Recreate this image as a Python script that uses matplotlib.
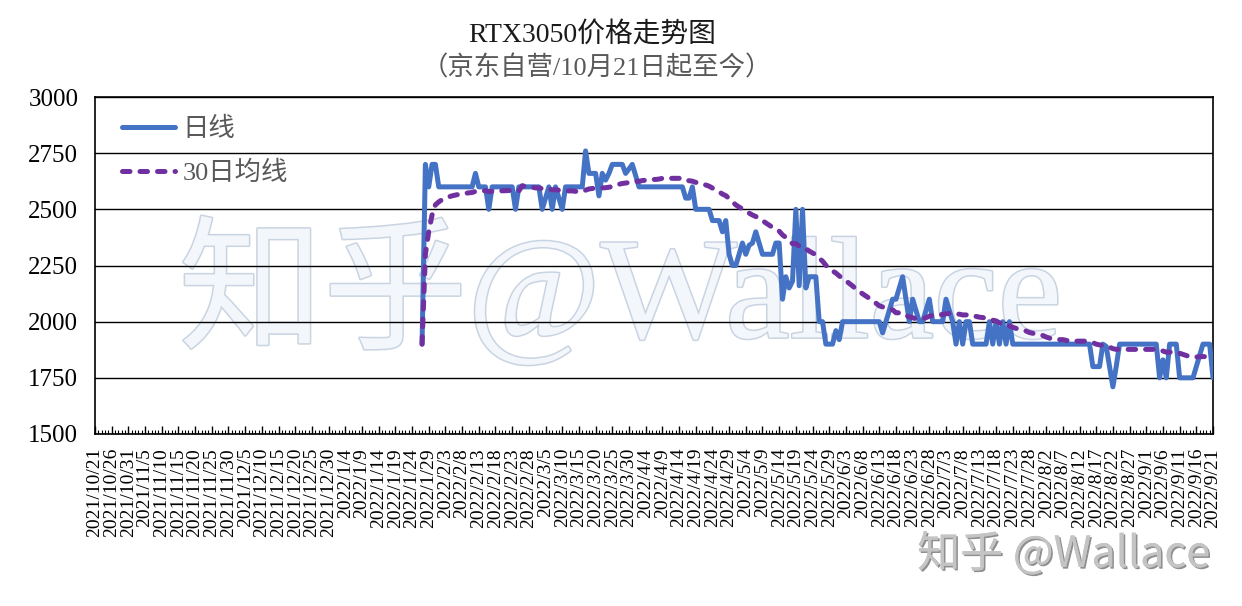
import numpy as np
import pandas as pd
import matplotlib
matplotlib.use("Agg")
import matplotlib.pyplot as plt
import matplotlib.patheffects as pe

# axis runs daily from start_date to end_date, prices start on first_price_date
start_date = "2021-10-21"
end_date = "2022-09-21"
first_price_date = "2022-01-27"

# daily price (日线), one value per day from 2022/1/27
prices = [
    1900, 2700, 2600, 2700, 2700, 2600, 2600, 2600, 2600, 2600,
    2600, 2600, 2600, 2600, 2600, 2600, 2660, 2600, 2600, 2600,
    2500, 2600, 2600, 2600, 2600, 2600, 2600, 2600, 2500, 2600,
    2600, 2600, 2600, 2600, 2600, 2600, 2500, 2550, 2600, 2500,
    2600, 2550, 2500, 2600, 2600, 2600, 2600, 2600, 2600, 2760,
    2660, 2660, 2660, 2560, 2660, 2630, 2660, 2700, 2700, 2700,
    2700, 2660, 2680, 2700, 2650, 2600, 2600, 2600, 2600, 2600,
    2600, 2600, 2600, 2600, 2600, 2600, 2600, 2600, 2600, 2550,
    2550, 2600, 2500, 2500, 2500, 2500, 2500, 2450, 2450, 2450,
    2400, 2450, 2300, 2250, 2250, 2300, 2350, 2300, 2340, 2350,
    2400, 2350, 2300, 2300, 2300, 2300, 2350, 2350, 2100, 2200,
    2150, 2180, 2500, 2160, 2500, 2150, 2200, 2200, 2200, 2000,
    2000, 1900, 1900, 1900, 1960, 1920, 2000, 2000, 2000, 2000,
    2000, 2000, 2000, 2000, 2000, 2000, 2000, 2000, 1950, 2000,
    2050, 2100, 2100, 2150, 2200, 2100, 2000, 2100, 2050, 2000,
    2000, 2050, 2100, 2000, 2000, 2000, 2000, 2100, 2050, 2000,
    1900, 2000, 1900, 2000, 2000, 1900, 1900, 1900, 1900, 1900,
    2000, 1900, 2000, 1900, 2000, 1900, 2000, 1900, 1900, 1900,
    1900, 1900, 1900, 1900, 1900, 1900, 1900, 1900, 1900, 1900,
    1900, 1900, 1900, 1900, 1900, 1900, 1900, 1900, 1900, 1900,
    1900, 1800, 1800, 1800, 1900, 1890, 1800, 1710, 1800, 1900,
    1900, 1900, 1900, 1900, 1900, 1900, 1900, 1900, 1900, 1900,
    1900, 1750, 1830, 1750, 1900, 1900, 1900, 1750, 1750, 1750,
    1750, 1750, 1800, 1850, 1900, 1900, 1900, 1750,
]

yticks = [1500, 1750, 2000, 2250, 2500, 2750, 3000]

plt.rcParams['font.family'] = ['Liberation Serif', 'Noto Sans CJK SC']

dates = pd.date_range(start_date, end_date, freq="D")
daily = pd.Series(np.nan, index=dates)
daily.loc[first_price_date:] = prices
# 30 day average, averages what is there for the first month
ma30 = daily.rolling(30, min_periods=1).mean()

labels = [f"{d.year}/{d.month}/{d.day}" for d in dates]
x = np.arange(len(dates))

fig = plt.figure(figsize=(12.42, 6.06), dpi=100)
ax = fig.add_axes([95/1242, 1-434/606, (1213-95)/1242, (434-97)/606])

# big watermark behind everything
ax.text(0.47, 0.415, "知乎@Wallace", transform=ax.transAxes, ha="center", va="center",
        fontsize=104, color="#f3f6fa", zorder=0.2,
        path_effects=[pe.Stroke(linewidth=2.2, foreground="#c9d4e2"), pe.Normal()])

ax.plot(x, daily.values, color="#4472C4", lw=3.6, solid_joinstyle="round",
        solid_capstyle="round", label="日线", zorder=3)
ax.plot(x, ma30.values, color="#7030A0", lw=3.6, ls=(0, (1.5, 2.0)),
        dash_capstyle="round", label="30日均线", zorder=4)

ax.set_xlim(0, len(dates) - 1)
ax.set_ylim(1500, 3000)
ax.set_yticks(yticks)
ax.set_yticklabels([str(v) for v in yticks])
ax.yaxis.grid(True, color="black", lw=1)
ax.set_axisbelow(True)
ax.tick_params(axis="y", length=0, pad=12, labelsize=18)

ax.set_xticks(x[::5])
ax.set_xticklabels(labels[::5], rotation=90, fontsize=14)
ax.set_xticks(x, minor=True)
ax.tick_params(axis="x", which="major", direction="in", length=6, width=1, pad=10)
ax.tick_params(axis="x", which="minor", direction="in", length=3, width=0.8)

for sp in ax.spines.values():
    sp.set_color("black")
    sp.set_linewidth(1.2)

ax.legend(loc="upper left", bbox_to_anchor=(0.024, 0.94), frameon=False,
          fontsize=19, handlelength=2.0, handletextpad=0.3, labelspacing=0.72,
          borderpad=0, borderaxespad=0, labelcolor="#595959")

fig.text(592/1242, 1-35/606, "RTX3050价格走势图", ha="center", va="center",
         fontsize=20, color="#1a1a1a")
fig.text(597/1242, 1-68/606, "（京东自营/10月21日起至今）", ha="center", va="center",
         fontsize=19, color="#595959")

# corner watermark
fig.text(1210/1242, 1-555/606, "知乎 @Wallace", ha="right", va="center",
         fontsize=31, color="#c4c4c4", family=["Noto Sans CJK SC", "DejaVu Sans"],
         path_effects=[pe.withSimplePatchShadow(offset=(1.2, -1.2), shadow_rgbFace="#333333", alpha=0.55),
                       pe.Normal()])

fig.savefig("out.png", dpi=100)
